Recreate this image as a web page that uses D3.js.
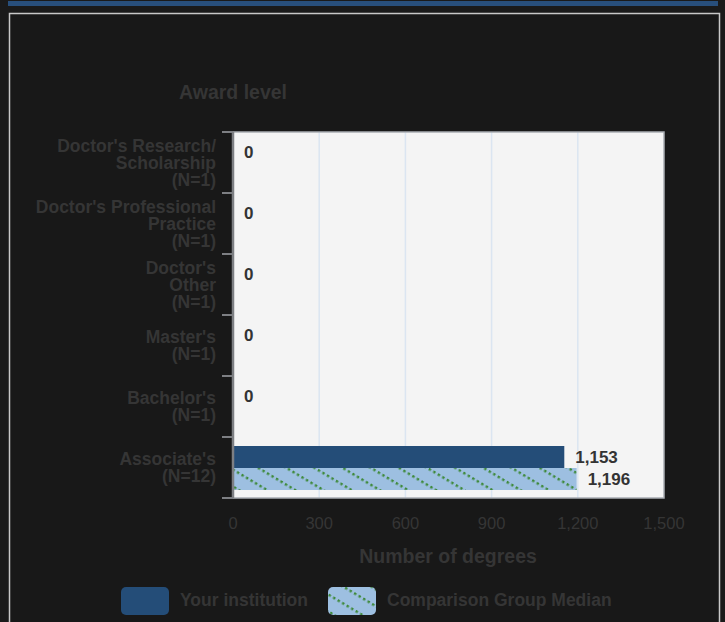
<!DOCTYPE html>
<html>
<head>
<meta charset="utf-8">
<script src="https://cdn.jsdelivr.net/npm/d3@7"></script>
<style>
  html, body { margin: 0; padding: 0; background: #1a1a1a; }
  svg { display: block; }
  text { font-family: "Liberation Sans", Arial, sans-serif; }
</style>
</head>
<body>
<svg id="chart" width="725" height="622"></svg>
<script>
// ---- data ----
const categories = [
  ["Doctor's Research/", "Scholarship", "(N=1)"],
  ["Doctor's Professional", "Practice", "(N=1)"],
  ["Doctor's", "Other", "(N=1)"],
  ["Master's", "(N=1)"],
  ["Bachelor's", "(N=1)"],
  ["Associate's", "(N=12)"]
];
const seriesNames = ["Your institution", "Comparison Group Median"];
const yourInstitution = [0, 0, 0, 0, 0, 1153];
const comparisonMedian = [null, null, null, null, null, 1196];
const xTicks = [0, 300, 600, 900, 1200, 1500];
const yTitle = "Award level";
const xTitle = "Number of degrees";

// ---- layout ----
const svg = d3.select("#chart");
const W = 725, H = 622;
const plot = { left: 233, right: 664, top: 132, bottom: 498 };
const catKeys = categories.map((c, i) => i);
const txt = "#353535";

svg.append("rect").attr("width", W).attr("height", H).attr("fill", "#1a1a1a");
// top accent bar
svg.append("rect").attr("x", 8).attr("y", 1).attr("width", 710).attr("height", 5).attr("fill", "#284f7c");
// panel
svg.append("rect").attr("x", 9.5).attr("y", 13.5).attr("width", 710).attr("height", 620)
  .attr("fill", "#181818").attr("stroke", "#c8c8c8").attr("stroke-width", 1.5);

// pattern
const defs = svg.append("defs");
const pat = defs.append("pattern").attr("id", "hatch").attr("patternUnits", "userSpaceOnUse")
  .attr("width", 10.5).attr("height", 14.5).attr("patternTransform", "rotate(31)");
pat.append("rect").attr("width", 10.5).attr("height", 14.5).attr("fill", "#9dbfe1");
pat.append("line").attr("x1", 0).attr("y1", 7).attr("x2", 10.5).attr("y2", 7)
  .attr("stroke", "#3f8a3c").attr("stroke-width", 2.6).attr("stroke-dasharray", "2.5,2.75");

const x = d3.scaleLinear().domain([xTicks[0], xTicks[xTicks.length - 1]]).range([plot.left, plot.right]);
const y = d3.scaleBand().domain(catKeys).range([plot.top, plot.bottom]);
const sub = d3.scaleBand().domain(seriesNames).range([9, y.bandwidth() - 8]).paddingInner(0);

// plot background
svg.append("rect").attr("x", plot.left).attr("y", plot.top)
  .attr("width", plot.right - plot.left).attr("height", plot.bottom - plot.top)
  .attr("fill", "#f4f4f4");

// grid
svg.append("g").selectAll("line").data(xTicks.slice(1, -1)).join("line")
  .attr("x1", d => x(d)).attr("x2", d => x(d))
  .attr("y1", plot.top).attr("y2", plot.bottom)
  .attr("stroke", "#dbe5f1").attr("stroke-width", 1.5);

// bars
const seriesData = [yourInstitution, comparisonMedian];
const fills = ["#244d78", "url(#hatch)"];
seriesNames.forEach((s, si) => {
  const g = svg.append("g");
  g.selectAll("rect").data(catKeys.filter(i => seriesData[si][i] != null && seriesData[si][i] > 0)).join("rect")
    .attr("x", x(0))
    .attr("y", i => y(i) + sub(s))
    .attr("width", i => x(seriesData[si][i]) - x(0))
    .attr("height", sub.bandwidth())
    .attr("fill", fills[si]);
  g.selectAll("text").data(catKeys.filter(i => seriesData[si][i] != null)).join("text")
    .attr("x", i => x(seriesData[si][i]) + 11)
    .attr("y", i => y(i) + sub(s) + sub.bandwidth() / 2)
    .attr("dy", "0.35em")
    .attr("font-size", 17).attr("font-weight", "bold").attr("fill", "#333")
    .text(i => d3.format(",")(seriesData[si][i]));
});

// plot frame
svg.append("rect").attr("x", plot.left).attr("y", plot.top)
  .attr("width", plot.right - plot.left).attr("height", plot.bottom - plot.top)
  .attr("fill", "none").attr("stroke", "#a9adb3").attr("stroke-width", 1.5);

// y axis
const yAxis = svg.append("g");
yAxis.append("line").attr("x1", plot.left).attr("x2", plot.left)
  .attr("y1", plot.top).attr("y2", plot.bottom).attr("stroke", "#7d7f83").attr("stroke-width", 2.5);
const tickYs = catKeys.map(i => y(i)).concat([plot.bottom]);
yAxis.selectAll("line.tick").data(tickYs).join("line").attr("class", "tick")
  .attr("x1", plot.left - 11).attr("x2", plot.left)
  .attr("y1", d => d).attr("y2", d => d).attr("stroke", "#7d7f83").attr("stroke-width", 2);

const lineH = 17;
yAxis.selectAll("text.cat").data(catKeys).join("text").attr("class", "cat")
  .attr("text-anchor", "end").attr("font-size", 17.5).attr("font-weight", "bold").attr("fill", txt)
  .each(function(i) {
    const lines = categories[i];
    const cy = y(i) + y.bandwidth() / 2;
    const t = d3.select(this);
    lines.forEach((ln, k) => {
      t.append("tspan").attr("x", 216)
        .attr("y", cy + (k - (lines.length - 1) / 2) * lineH)
        .attr("dy", "0.35em").text(ln);
    });
  });

// x axis labels
svg.append("g").selectAll("text").data(xTicks).join("text")
  .attr("x", d => x(d)).attr("y", 529).attr("text-anchor", "middle")
  .attr("font-size", 16.5).attr("fill", txt).text(d => d3.format(",")(d));

// titles
svg.append("text").attr("x", 233).attr("y", 99).attr("text-anchor", "middle")
  .attr("font-size", 19.5).attr("font-weight", "bold").attr("fill", txt).text(yTitle);
svg.append("text").attr("x", 448).attr("y", 563).attr("text-anchor", "middle")
  .attr("font-size", 19.5).attr("font-weight", "bold").attr("fill", txt).text(xTitle);

// legend
const legendX = [121, 328];
seriesNames.forEach((s, si) => {
  svg.append("rect").attr("x", legendX[si]).attr("y", 587).attr("width", 48).attr("height", 28)
    .attr("rx", 5).attr("fill", fills[si]);
  svg.append("text").attr("x", legendX[si] + 59).attr("y", 606)
    .attr("font-size", 17.5).attr("font-weight", "bold").attr("fill", txt).text(s);
});
</script>
</body>
</html>
